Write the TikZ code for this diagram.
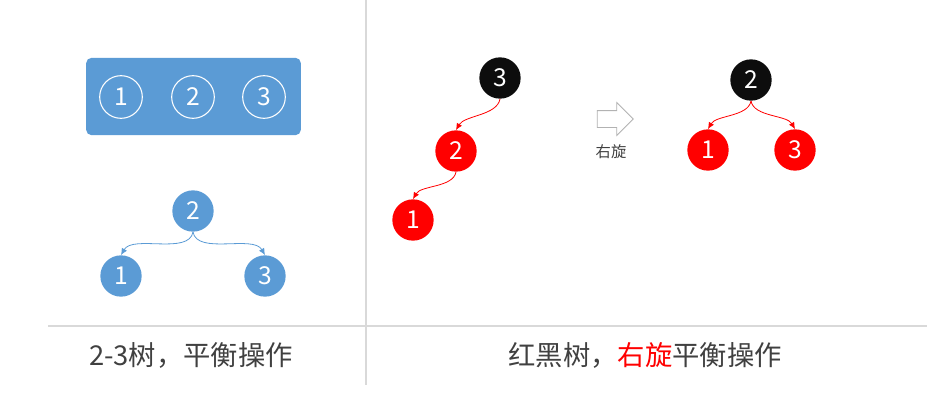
\documentclass[tikz,border=0pt]{standalone}
\usepackage{fontspec}
\setmainfont{Noto Sans CJK SC}
\usetikzlibrary{shapes.arrows, arrows.meta}
\definecolor{tblue}{HTML}{5B9BD5}
\definecolor{tred}{HTML}{FF0000}
\definecolor{tblack}{HTML}{0D0D0D}
\definecolor{tline}{HTML}{D9D9D9}
\definecolor{ttext}{HTML}{404040}

\begin{document}
\begin{tikzpicture}[x=0.75pt, y=-0.75pt, main/.style={circle, minimum size=31pt, inner sep=0pt, text=white, font=\fontsize{18.5}{18}\selectfont}, key/.style={main, draw=white, line width=0.8pt, minimum size=32pt}, bnode/.style={main, fill=tblue}, rnode/.style={main, fill=tred}, knode/.style={main, fill=tblack}, box/.style={rectangle, rounded corners=4pt, fill=tblue, minimum width=161pt, minimum height=58pt}, caption/.style={text=ttext, font=\fontsize{20.5}{24}\selectfont}, n/.style={-{Latex[length=5pt, width=4.5pt]}, line width=0.6pt}]
            \useasboundingbox (0,0) rectangle (927,400);
            % frame lines
            \coordinate (vtop) at (366,0);
            \coordinate (vbot) at (366,385);
            \coordinate (hleft) at (48,326);
            \coordinate (hright) at (927,326);
            \draw [tline, line width=0.8pt] (vtop) -- (vbot);
            \draw [tline, line width=0.8pt] (hleft) -- (hright);
            % nodes
            \node[box] (box) at (193.5,96.5) {};
            \node[key] (k1) at (121,97) {1};
            \node[key] (k2) at (193,97) {2};
            \node[key] (k3) at (264,97) {3};

            \node[bnode] (b2) at (193,211) {2};
            \node[bnode] (b1) at (121,276) {1};
            \node[bnode] (b3) at (265,276) {3};

            \node[knode] (r3) at (500,78) {3};
            \node[rnode] (r2) at (456,151) {2};
            \node[rnode] (r1) at (413,220) {1};

            \node[single arrow, draw=gray!60, fill=white, line width=0.6pt, inner sep=6pt, single arrow head extend=6pt, minimum height=27pt] (rot) at (611,119) {};
            \node[text=ttext, font=\fontsize{11.5}{12}\selectfont] (rotlbl) at (611,152) {右旋};

            \node[knode] (s2) at (751,80) {2};
            \node[rnode] (s1) at (708,150) {1};
            \node[rnode] (s3) at (795,150) {3};

            \node[caption] (cap1) at (191,355) {2-3树，平衡操作};
            \node[caption] (cap2) at (645,355) {红黑树，{\color{tred}右旋}平衡操作};
            % edges
            \draw [n, tblue] (b2.south) to[out=-100, in=60, looseness=0.8] (b1.north);
            \draw [n, tblue] (b2.south) to[out=-80, in=120, looseness=0.8] (b3.north);

            \draw [n, tred] (r3.south) to[out=-100, in=60, looseness=0.8] (r2.north);
            \draw [n, tred] (r2.south) to[out=-100, in=60, looseness=0.8] (r1.north);

            \draw [n, tred] (s2.south) to[out=-100, in=60, looseness=0.8] (s1.north);
            \draw [n, tred] (s2.south) to[out=-80, in=120, looseness=0.8] (s3.north);
        \end{tikzpicture}
\end{document}
